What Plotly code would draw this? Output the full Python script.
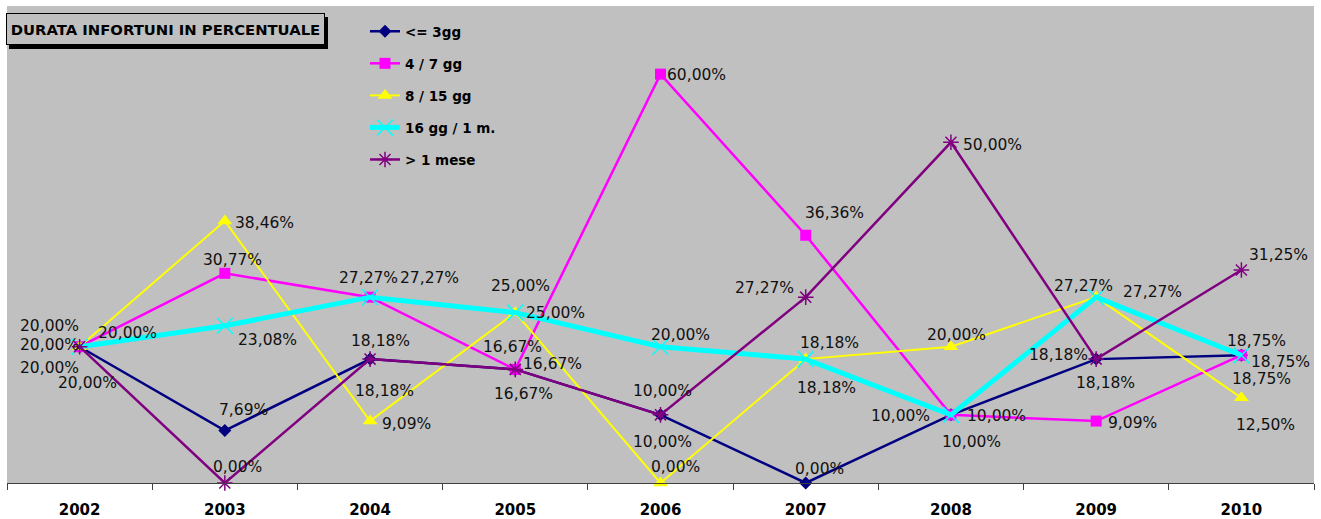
import plotly.graph_objects as go

years = ["2002", "2003", "2004", "2005", "2006", "2007", "2008", "2009", "2010"]
le3 = [20.00, 7.69, 18.18, 16.67, 10.00, 0.00, 10.00, 18.18, 18.75]
g4_7 = [20.00, 30.77, 27.27, 16.67, 60.00, 36.36, 10.00, 9.09, 18.75]
g8_15 = [20.00, 38.46, 9.09, 25.00, 0.00, 18.18, 20.00, 27.27, 12.50]
g16_1m = [20.00, 23.08, 27.27, 25.00, 20.00, 18.18, 10.00, 27.27, 18.75]
gt1m = [20.00, 0.00, 18.18, 16.67, 10.00, 27.27, 50.00, 18.18, 31.25]

names = ["<= 3gg", "4 / 7 gg", "8 / 15 gg", "16 gg / 1 m.", "> 1 mese"]

# label offsets in pixels (dx right, dy down)
off_le3 = [(-30, 21), (19, -21), (10, -18), (-3, -22), (2, 27), (14, -14), (-50, 1), (-38, -4), (15, -14)]
off_4_7 = [(-30, -21), (8, -13), (-2, -19), (37, -5), (36, 1), (29, -22), (46, 1), (36, 2), (39, 7)]
off_8_15 = [(-30, -2), (40, 2), (36, 3), (40, 0), (15, -16), (24, -16), (6, -12), (-13, -11), (24, 27)]
off_16 = [(48, -14), (43, 14), (59, -19), (5, -27), (20, -12), (21, 29), (21, 27), (56, -5), (20, 24)]
off_gt1 = [(8, 36), (13, -16), (14, 32), (8, 25), (2, -24), (-41, -9), (42, 3), (9, 24), (37, -15)]

series = [
    (names[0], le3, "#000080", 2.5, "diamond", 10, 0, off_le3),
    (names[1], g4_7, "#FF00FF", 2.5, "square", 11, 0, off_4_7),
    (names[2], g8_15, "#FFFF00", 2, "triangle-up", 13, 0, off_8_15),
    (names[3], g16_1m, "#00FFFF", 5, "x-thin-open", 16, 1.5, off_16),
    (names[4], gt1m, "#800080", 2.5, "asterisk-open", 13, 1.5, off_gt1),
]

fig = go.Figure()
annotations = []
for i, (nm, vals, col, lw, sym, ms, mlw, offs) in enumerate(series):
    fig.add_trace(go.Scatter(
        x=years, y=vals, name=nm, mode="lines+markers",
        line=dict(color=col, width=lw),
        marker=dict(symbol=sym, size=ms, color=col, line=dict(color=col, width=mlw)),
        legendgroup=str(i), cliponaxis=False,
    ))
    for xi, (yv, (dx, dy)) in enumerate(zip(vals, offs)):
        annotations.append(dict(
            x=xi, y=yv, xref="x", yref="y", showarrow=False,
            text=f"{yv:.2f}".replace(".", ",") + "%",
            xanchor="center", yanchor="middle", xshift=dx, yshift=-dy,
            font=dict(family="DejaVu Sans", size=15.5, color="#111111"),
        ))

title_text = "<b>DURATA INFORTUNI IN PERCENTUALE</b>"
W, H = 1321, 519
L, R, T, B = 7, 7, 6, 36
pw, ph = W - L - R, H - T - B
tx = (6 - L) / pw
ty = (H - B - 13) / ph
for shadow in (True, False):
    annotations.append(dict(
        x=tx, y=ty, xref="paper", yref="paper", xanchor="left", yanchor="top",
        showarrow=False, text=" " if shadow else title_text, width=311, height=24,
        xshift=3 if shadow else 0, yshift=-4 if shadow else 0,
        font=dict(family="DejaVu Sans", size=14.8, color="black"),
        bgcolor="black" if shadow else "#C0C0C0",
        bordercolor="black", borderwidth=1, borderpad=3,
    ))

fig.update_layout(
    width=W, height=H,
    margin=dict(l=L, r=R, t=T, b=B, autoexpand=False),
    paper_bgcolor="white",
    plot_bgcolor="#C0C0C0",
    showlegend=True,
    legend=dict(
        x=(365 - L) / pw, y=(H - B - 16) / ph, xanchor="left", yanchor="top",
        bgcolor="rgba(0,0,0,0)", tracegroupgap=11.5,
        font=dict(family="DejaVu Sans", size=13.5, color="black", weight="bold"),
        itemwidth=30,
    ),
    xaxis=dict(
        type="category", tickson="boundaries", ticks="outside", ticklen=6,
        tickcolor="#404040", showline=True, linecolor="#404040", linewidth=1,
        showgrid=False, zeroline=False, ticklabelstandoff=13,
        tickfont=dict(family="DejaVu Sans", size=15, color="black", weight="bold"),
        range=[-0.5, 8.5],
    ),
    yaxis=dict(range=[0, 70], showgrid=False, zeroline=False, showticklabels=False,
               showline=False, ticks=""),
    annotations=annotations,
)

fig.write_html("out.html",
               config={"displayModeBar": False},
               post_script="document.body.style.margin='0';document.body.style.overflow='hidden';")
